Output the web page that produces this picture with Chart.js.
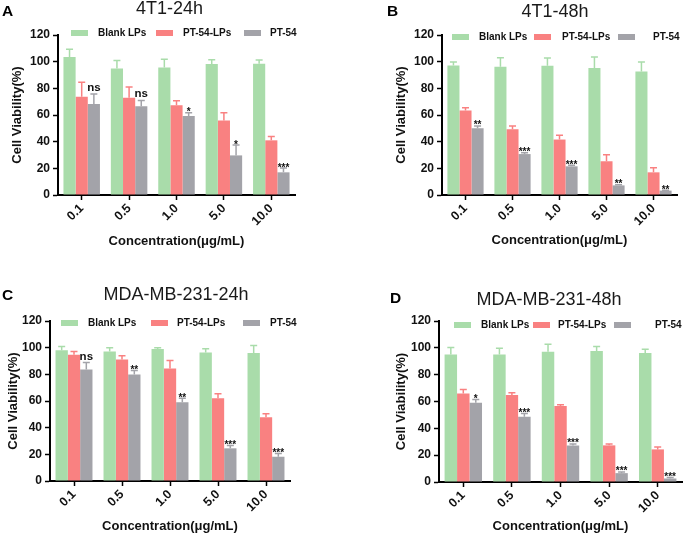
<!DOCTYPE html>
<html><head><meta charset="utf-8">
<script src="https://cdn.jsdelivr.net/npm/chart.js@4/dist/chart.umd.min.js"></script>
<style>
html,body{margin:0;padding:0;background:#fff;}
#wrap{position:relative;width:685px;height:536px;overflow:hidden;background:#fff;}
.panel{position:absolute;}
</style></head><body>
<div id="wrap">
<div class="panel" style="left:0;top:0;width:342px;height:268px"><canvas id="cA"></canvas></div>
<div class="panel" style="left:342px;top:0;width:343px;height:268px"><canvas id="cB"></canvas></div>
<div class="panel" style="left:0;top:268px;width:342px;height:268px"><canvas id="cC"></canvas></div>
<div class="panel" style="left:342px;top:268px;width:343px;height:268px"><canvas id="cD"></canvas></div>
</div>
<script>
// ---- data ----
const categories = ['0.1', '0.5', '1.0', '5.0', '10.0'];
const seriesNames = ['Blank LPs', 'PT-54-LPs', 'PT-54'];
const panelTitles = ['4T1-24h', '4T1-48h', 'MDA-MB-231-24h', 'MDA-MB-231-48h'];
const panelLetters = ['A', 'B', 'C', 'D'];
const yAxisTitle = 'Cell Viability(%)';
const xAxisTitle = 'Concentration(μg/mL)';
const yTickMin = 0, yTickMax = 120, yTickStep = 20;

// Panel A: 4T1-24h
const blankA = [103.5, 94.8, 95.6, 98.2, 98.5];
const blankA_err = [5.8, 6.0, 6.2, 3.2, 2.8];
const lipoA = [73.6, 73.0, 67.4, 55.8, 41.0];
const lipoA_err = [11.0, 8.0, 3.2, 5.8, 2.8];
const freeA = [68.2, 66.6, 59.2, 29.7, 17.0];
const freeA_err = [7.6, 4.3, 2.4, 7.8, 3.2];
const sigA = ['ns', 'ns', '*', '*', '***'];

// Panel B: 4T1-48h
const blankB = [97.2, 96.2, 97.0, 95.2, 92.7];
const blankB_err = [2.6, 6.8, 5.8, 8.3, 7.0];
const lipoB = [63.3, 49.4, 41.6, 25.3, 17.0];
const lipoB_err = [2.2, 2.4, 3.3, 4.9, 3.4];
const freeB = [50.0, 30.7, 21.5, 7.2, 3.3];
const freeB_err = [1.8, 1.0, 0.8, 0.4, 0.3];
const sigB = ['**', '***', '***', '**', '**'];

// Panel C: MDA-MB-231-24h
const blankC = [98.0, 97.2, 99.0, 96.4, 96.0];
const blankC_err = [2.8, 2.8, 1.0, 2.8, 5.6];
const lipoC = [94.6, 91.2, 84.4, 62.0, 47.8];
const lipoC_err = [2.6, 2.8, 6.0, 3.4, 2.7];
const freeC = [83.6, 79.9, 59.0, 24.5, 18.2];
const freeC_err = [5.2, 3.0, 3.0, 2.2, 2.5];
const sigC = ['ns', '**', '**', '***', '***'];

// Panel D: MDA-MB-231-48h
const blankD = [95.0, 95.0, 97.0, 97.7, 96.2];
const blankD_err = [5.2, 4.7, 5.7, 3.3, 2.8];
const lipoD = [66.0, 64.8, 56.6, 27.3, 24.3];
const lipoD_err = [3.0, 1.7, 1.0, 1.0, 1.8];
const freeD = [59.0, 48.7, 27.2, 6.6, 2.6];
const freeD_err = [2.4, 2.4, 1.2, 0.9, 0.7];
const sigD = ['*', '***', '***', '***', '***'];

// ---- styles ----
const FONT = '"Liberation Sans", Arial, Helvetica, sans-serif';
const COLORS = ['#a9dcaa', '#f98181', '#a3a3a9'];

// ---- plugins ----
const errorBars = {
  id: 'errorBars',
  afterDatasetsDraw(chart) {
    const ctx = chart.ctx, ys = chart.scales.y;
    chart.data.datasets.forEach((ds, di) => {
      const meta = chart.getDatasetMeta(di);
      meta.data.forEach((bar, i) => {
        const v = ds.data[i], e = ds.errors[i];
        const yTop = ys.getPixelForValue(v), yE = ys.getPixelForValue(v + e);
        ctx.save();
        ctx.strokeStyle = ds.backgroundColor;
        ctx.lineWidth = 1.5;
        ctx.beginPath();
        ctx.moveTo(bar.x, yTop); ctx.lineTo(bar.x, yE);
        ctx.moveTo(bar.x - 3.5, yE); ctx.lineTo(bar.x + 3.5, yE);
        ctx.stroke();
        if (ds.sig && ds.sig[i]) {
          const s = ds.sig[i];
          ctx.fillStyle = '#111';
          ctx.textAlign = 'center';
          ctx.textBaseline = 'alphabetic';
          if (s === 'ns') {
            ctx.font = 'bold 11.5px ' + FONT;
            ctx.fillText(s, bar.x, yE - 3);
          } else {
            ctx.font = 'bold 10px ' + FONT;
            ctx.fillText(s, bar.x, yE + 2.5);
          }
        }
        ctx.restore();
      });
    });
  }
};

const panelLegend = {
  id: 'panelLegend',
  afterDraw(chart, args, opts) {
    const ctx = chart.ctx;
    ctx.save();
    chart.data.datasets.forEach((ds, i) => {
      const [bx, tx] = opts.items[i];
      ctx.fillStyle = ds.backgroundColor;
      ctx.fillRect(bx, opts.y - 3, 17, 6);
      ctx.fillStyle = '#111';
      ctx.font = 'bold 10px ' + FONT;
      ctx.textBaseline = 'middle';
      ctx.textAlign = 'left';
      ctx.fillText(ds.label, tx, opts.y);
    });
    ctx.restore();
  }
};

const panelLetter = {
  id: 'panelLetter',
  afterDraw(chart, args, opts) {
    const ctx = chart.ctx;
    ctx.save();
    ctx.fillStyle = '#000';
    ctx.font = 'bold 15.5px ' + FONT;
    ctx.textBaseline = 'alphabetic';
    ctx.textAlign = 'left';
    ctx.fillText(opts.text, opts.x, opts.y);
    ctx.restore();
  }
};

const titleShift = {
  id: 'titleShift',
  afterLayout(chart, args, opts) {
    const tb = chart.titleBlock;
    if (tb && opts.dx) { tb.left += opts.dx; tb.right += opts.dx; }
  }
};

// ---- panel geometry ----
const panels = [
  {id: 'cA', w: 342, h: 268, left: 58, right: 295, top: 35, bottom: 195, titlePad: 0, titleDx: -7,
   yTitlePad: 9.2, xTitlePad: 19.2, letter: [2, 16], legendY: 33, legendItems: [[71, 98], [156, 183], [244, 270]],
   vals: [blankA, lipoA, freeA], errs: [blankA_err, lipoA_err, freeA_err], sig: sigA},
  {id: 'cB', w: 343, h: 268, left: 100, right: 335, top: 35, bottom: 195, titlePad: 3, titleDx: -4.5,
   yTitlePad: 51.2, xTitlePad: 20.2, letter: [45, 16], legendY: 37, legendItems: [[110, 137], [192, 220], [276, 311]],
   vals: [blankB, lipoB, freeB], errs: [blankB_err, lipoB_err, freeB_err], sig: sigB},
  {id: 'cC', w: 342, h: 268, left: 50, right: 290, top: 53, bottom: 213, titlePad: 18, titleDx: 6,
   yTitlePad: 5.2, xTitlePad: 2.2, letter: [2, 32], legendY: 55, legendItems: [[61, 88], [151, 177], [243, 270]],
   vals: [blankC, lipoC, freeC], errs: [blankC_err, lipoC_err, freeC_err], sig: sigC},
  {id: 'cD', w: 343, h: 268, left: 97, right: 340, top: 53, bottom: 214, titlePad: 23, titleDx: -11.5,
   yTitlePad: 51.2, xTitlePad: 2.2, letter: [48, 35], legendY: 57, legendItems: [[112, 139], [191, 216], [272, 313]],
   vals: [blankD, lipoD, freeD], errs: [blankD_err, lipoD_err, freeD_err], sig: sigD}
];

panels.forEach((p, pi) => {
  const TITLE_SIZE = 18;
  new Chart(document.getElementById(p.id), {
    type: 'bar',
    data: {
      labels: categories,
      datasets: seriesNames.map((name, si) => ({
        label: name,
        data: p.vals[si],
        errors: p.errs[si],
        sig: si === 2 ? p.sig : null,
        backgroundColor: COLORS[si],
        borderWidth: 0,
        categoryPercentage: 0.77,
        barPercentage: 1.0
      }))
    },
    options: {
      responsive: true,
      maintainAspectRatio: false,
      animation: false,
      devicePixelRatio: 1,
      layout: {padding: {left: 0, right: p.w - p.right, top: 0, bottom: 0}},
      plugins: {
        legend: {display: false},
        tooltip: {enabled: false},
        title: {
          display: true, text: panelTitles[pi], fullSize: false, color: '#1a1a1a',
          font: {family: FONT, size: TITLE_SIZE, weight: 'normal', lineHeight: 1},
          padding: {top: p.titlePad, bottom: p.top - p.titlePad - TITLE_SIZE}
        },
        titleShift: {dx: p.titleDx},
        panelLegend: {y: p.legendY, items: p.legendItems},
        panelLetter: {text: panelLetters[pi], x: p.letter[0], y: p.letter[1]}
      },
      scales: {
        x: {
          z: 1,
          grid: {display: true, drawOnChartArea: false, offset: false, tickLength: 5, tickWidth: 1.5, tickColor: '#000'},
          border: {display: true, color: '#000', width: 2},
          ticks: {font: {family: FONT, size: 12.5, weight: 'bold'}, color: '#111', minRotation: 45, maxRotation: 45, padding: 1, autoSkip: false},
          title: {display: true, text: xAxisTitle, color: '#111',
                  font: {family: FONT, size: 13, weight: 'bold', lineHeight: 1.2},
                  padding: {top: 0, bottom: p.xTitlePad}},
          afterFit: s => { s.height = p.h - p.bottom; }
        },
        y: {
          z: 1,
          min: yTickMin, max: yTickMax,
          ticks: {stepSize: yTickStep, font: {family: FONT, size: 12, weight: 'bold'}, color: '#111', padding: 3},
          grid: {drawOnChartArea: false, tickLength: 5, tickWidth: 1.5, tickColor: '#000'},
          border: {display: true, color: '#000', width: 2},
          title: {display: true, text: yAxisTitle, color: '#111',
                  font: {family: FONT, size: 13, weight: 'bold', lineHeight: 1.2},
                  padding: {top: p.yTitlePad, bottom: 0}},
          afterFit: s => { s.width = p.left; }
        }
      }
    },
    plugins: [errorBars, panelLegend, panelLetter, titleShift]
  });
});
</script>
</body></html>
